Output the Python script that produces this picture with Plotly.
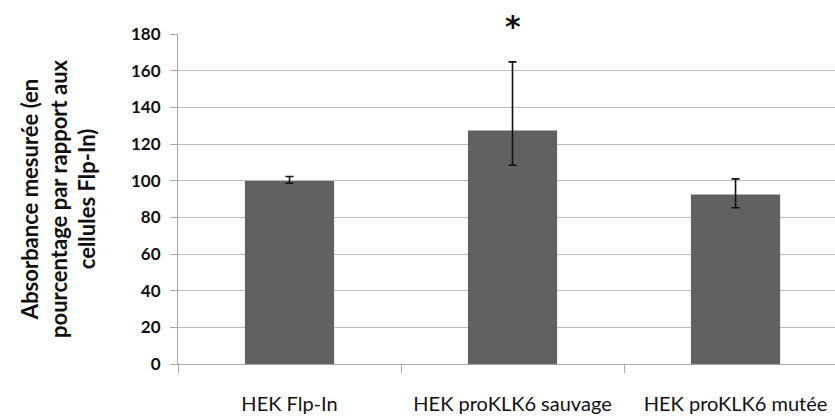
import plotly.graph_objects as go

categories = ["HEK Flp-In", "HEK proKLK6 sauvage", "HEK proKLK6 mutée"]
means = [99.8, 127.4, 92.4]
err_plus = [2.5, 37.4, 8.6]
err_minus = [1.2, 19.0, 7.2]
y_ticks = [0, 20, 40, 60, 80, 100, 120, 140, 160, 180]
significance = ["", "*", ""]

FONT = "Lato"
W, H = 835, 418
L, R, T, B = 178, 0, 34, 54
plot_w = W - L - R
plot_h = H - T - B

fig = go.Figure()
fig.add_trace(go.Bar(
    x=categories,
    y=means,
    width=0.4,
    marker=dict(color="#616161", line=dict(width=0)),
    error_y=dict(
        type="data",
        symmetric=False,
        array=err_plus,
        arrayminus=err_minus,
        color="#111111",
        thickness=1.6,
        width=4,
    ),
))

# significance marks above the bars
for cat, mark in zip(categories, significance):
    if mark:
        fig.add_annotation(
            x=cat, y=1.0 + 7 / plot_h, yref="paper", yanchor="middle",
            text=f"<b>{mark}</b>", showarrow=False,
            font=dict(family="DejaVu Sans", size=30, color="#111111"),
        )

# y-axis title, placed in figure pixels left of the tick labels
fig.add_annotation(
    x=(58 - L) / plot_w, xref="paper", y=0.5, yref="paper",
    text="<b>Absorbance mesurée (en<br>pourcentage par rapport aux<br>cellules Flp-In)</b>",
    textangle=-90, showarrow=False, xanchor="center", yanchor="middle",
    font=dict(family=FONT, size=22, color="#111111"),
)

fig.update_layout(
    width=W, height=H,
    margin=dict(l=L, r=R, t=T, b=B),
    paper_bgcolor="white", plot_bgcolor="white",
    showlegend=False,
    font=dict(family=FONT, color="#111111"),
)
fig.update_xaxes(
    range=[-0.5, 2.446],
    showline=True, linecolor="#A8A8A8", linewidth=1.2,
    ticks="outside", tickson="boundaries", ticklen=8, tickcolor="#A8A8A8",
    ticklabelstandoff=22,
    tickfont=dict(family=FONT, size=20, color="#111111"),
    showgrid=False,
)
fig.update_yaxes(
    range=[0, 180], tickvals=y_ticks,
    tickmode="array",
    ticktext=[f"<b>{v}</b>" for v in y_ticks],
    showline=True, linecolor="#A8A8A8", linewidth=1.2,
    ticks="outside", ticklen=7, tickcolor="#A8A8A8",
    ticklabelstandoff=6,
    showgrid=True, gridcolor="#BDBDBD", gridwidth=1.2,
    tickfont=dict(family=FONT, size=17, color="#111111"),
    zeroline=False,
)

fig.write_html("out.html")
